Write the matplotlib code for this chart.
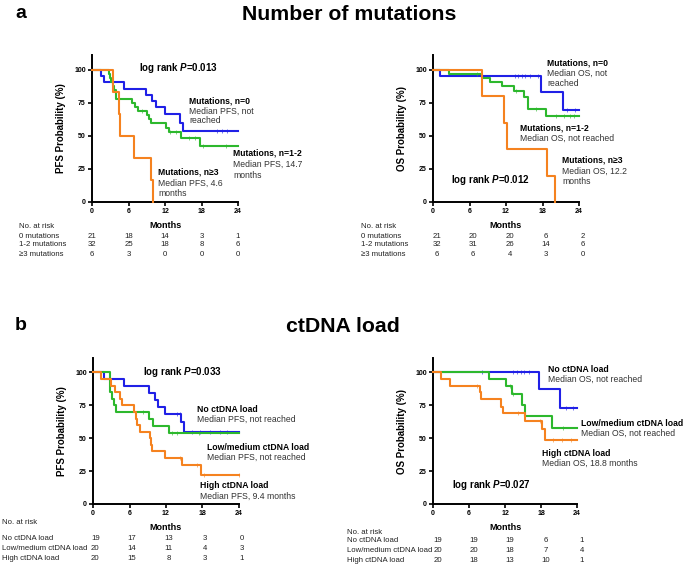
import numpy as np
import matplotlib
matplotlib.use("Agg")
import matplotlib.pyplot as plt
import matplotlib.transforms as mtransforms

plt.rcParams['font.family'] = ['Liberation Sans', 'DejaVu Sans']
plt.rcParams['mathtext.fontset'] = 'custom'
plt.rcParams['mathtext.bfit'] = 'Liberation Sans:italic:bold'
plt.rcParams['mathtext.rm'] = 'Liberation Sans:bold'

W, H = 685, 567
BLUE = '#2020e6'
GREEN = '#2db82d'
ORANGE = '#f5821f'

# ---------------- data ----------------
risk_times = [0, 6, 12, 18, 24]

# Panel a, PFS
a_pfs_blue_t = [1.5, 1.9, 5.2, 8.9, 9.8, 10.6, 12.0, 14.5, 15.0]
a_pfs_blue_s = [95.2, 90.5, 85.7, 81.0, 76.2, 71.4, 66.7, 60.0, 53.3]
a_pfs_blue_c = [20.5, 21.4, 22.2]
a_pfs_green_t = [2.8, 3.0, 3.2, 3.4, 3.6, 4.0, 6.6, 7.0, 7.6, 9.0, 9.3, 9.7, 12.1, 12.6, 14.6, 17.7]
a_pfs_green_s = [96.9, 93.8, 90.6, 87.5, 84.4, 78.1, 75.0, 71.9, 68.8, 65.6, 62.5, 59.4, 56.0, 52.5, 48.3, 42.5]
a_pfs_green_c = [8.2, 12.8, 13.8, 16.0, 17.0, 18.2, 22.1]
a_pfs_orange_t = [3.5, 4.4, 4.6, 6.9, 9.7, 10.0]
a_pfs_orange_s = [83.3, 66.7, 50.0, 33.3, 16.7, 0.0]
a_pfs_orange_c = []
a_pfs_end = [24, 24, 10.0]

# Panel a, OS
a_os_blue_t = [1.2, 17.8, 21.3]
a_os_blue_s = [95.2, 83.3, 69.4]
a_os_blue_c = [13.4, 14.0, 14.6, 15.2, 16.0, 17.3, 22.0, 23.3]
a_os_green_t = [2.7, 8.1, 9.4, 11.4, 13.3, 15.0, 15.6, 18.5]
a_os_green_s = [96.9, 93.8, 90.6, 87.5, 83.6, 79.5, 70.3, 65.0]
a_os_green_c = [7.3, 13.6, 17.0, 20.3, 21.5, 22.5, 23.2]
a_os_orange_t = [8.1, 11.7, 12.1, 18.8, 20.0]
a_os_orange_s = [80.0, 60.0, 40.0, 20.0, 0.0]
a_os_orange_c = []
a_os_end = [24, 24, 20.0]

# Panel b, PFS
b_pfs_blue_t = [1.8, 5.1, 9.2, 10.2, 10.7, 11.8, 14.5, 15.0]
b_pfs_blue_s = [94.7, 89.5, 84.2, 78.9, 73.7, 68.4, 62.2, 54.7]
b_pfs_blue_c = [13.8, 14.3, 16.2, 17.6, 19.3, 20.9, 22.0]
b_pfs_green_t = [2.75, 3.1, 3.4, 3.85, 9.2, 9.9, 12.5]
b_pfs_green_s = [85.0, 80.0, 75.0, 70.0, 65.0, 59.5, 54.0]
b_pfs_green_c = [8.3, 13.0, 13.8, 17.5]
b_pfs_orange_t = [1.3, 3.0, 3.6, 4.5, 4.7, 6.8, 7.0, 7.2, 7.7, 9.4, 9.6, 9.7, 11.9, 14.6, 17.7]
b_pfs_orange_s = [95.0, 90.0, 85.0, 80.0, 75.0, 70.0, 65.0, 60.0, 55.0, 50.0, 45.0, 40.0, 35.0, 29.3, 21.8]
b_pfs_orange_c = [14.3, 17.1, 18.3, 24.0]
b_pfs_end = [24, 24, 24]

# Panel b, OS
b_os_blue_t = [17.7, 21.1]
b_os_blue_s = [87.5, 73.0]
b_os_blue_c = [8.1, 13.3, 14.0, 14.6, 15.2, 16.0, 22.2, 23.3]
b_os_green_t = [9.3, 12.1, 13.2, 14.9, 15.4, 19.9]
b_os_green_s = [95.0, 89.5, 84.0, 75.5, 67.0, 57.5]
b_os_green_c = [12.8, 13.3, 21.7]
b_os_orange_t = [1.3, 2.8, 7.9, 8.0, 11.3, 11.6, 15.4, 18.2, 18.6]
b_os_orange_s = [95.0, 90.0, 85.0, 80.0, 74.0, 69.0, 63.0, 57.0, 48.5]
b_os_orange_c = [7.4, 14.2, 17.8, 20.0, 21.5, 23.0]
b_os_end = [24, 24, 24]

# Risk tables
a_groups = ['0 mutations', '1-2 mutations', '\u22653 mutations']
a_pfs_risk = [[21, 18, 14, 3, 1], [32, 25, 18, 8, 6], [6, 3, 0, 0, 0]]
a_os_risk = [[21, 20, 20, 6, 2], [32, 31, 26, 14, 6], [6, 6, 4, 3, 0]]
b_groups = ['No ctDNA load', 'Low/medium ctDNA load', 'High ctDNA load']
b_pfs_risk = [[19, 17, 13, 3, 0], [20, 14, 11, 4, 3], [20, 15, 8, 3, 1]]
b_os_risk = [[19, 19, 19, 6, 1], [20, 20, 18, 7, 4], [20, 18, 13, 10, 1]]

# ---------------- figure ----------------
fig = plt.figure(figsize=(W / 100, H / 100), dpi=100)
fig.patch.set_facecolor('white')


def fx(x):
    return x / W


def fy(y):
    return 1 - y / H


def ftext(x, y, s, **kw):
    kw.setdefault('va', 'center')
    fig.text(fx(x), fy(y), s, **kw)


def make_axes(x0, x1, y0, ytop, ylabel):
    ax = fig.add_axes([fx(x0), fy(y0), (x1 - x0) / W, (y0 - ytop) / H])
    ax.set_xlim(0, 24)
    ax.set_ylim(0, 111)
    for sp in ['top', 'right']:
        ax.spines[sp].set_visible(False)
    for sp in ['left', 'bottom']:
        ax.spines[sp].set_linewidth(1.4)
    ax.spines['left'].set_bounds(0, 111)
    ax.set_xticks(risk_times)
    ax.set_yticks([0, 25, 50, 75, 100])
    ax.tick_params(axis='both', direction='out', length=3, width=1.2, pad=1.5,
                   labelsize=5)
    for lab in ax.get_xticklabels() + ax.get_yticklabels():
        lab.set_fontweight('bold')
    ax.set_ylabel(ylabel, fontsize=7, fontweight='bold', labelpad=6)
    ax.set_xlabel('Months', fontsize=6.5, fontweight='bold', labelpad=4)
    return ax


def km(ax, t, s, end, censor, color):
    tt = [0] + list(t) + [end]
    ss = [100] + list(s) + [s[-1]]
    ax.step(tt, ss, where='post', color=color, lw=1.5, clip_on=False, zorder=3)
    if censor:
        ct = np.array(censor)
        idx = np.searchsorted(np.array(tt), ct, side='right') - 1
        cs = np.array(ss)[idx]
        ax.plot(ct, cs, ls='none', marker='|', ms=3.5, mew=0.6, color=color,
                alpha=0.7, clip_on=False, zorder=3)


def risk_table(ax, groups, rows, y_head, y_rows, x_label, dx=0.0):
    trans = mtransforms.blended_transform_factory(ax.transData, fig.transFigure)
    ftext(x_label, y_head, 'No. at risk', fontsize=5.6, ha='left', color='#222222')
    for g, row, yr in zip(groups, rows, y_rows):
        ftext(x_label, yr, g, fontsize=5.6, ha='left', color='#222222')
        for tm, n in zip(risk_times, row):
            ax.text(tm + dx, fy(yr), str(n), transform=trans, fontsize=5.6,
                    ha='center', va='center', color='#222222', clip_on=False)


# Titles
ftext(15, 14, 'a', fontsize=14, fontweight='bold', ha='left')
ftext(349, 14, 'Number of mutations', fontsize=15.3, fontweight='bold', ha='center')
ftext(15, 326, 'b', fontsize=14, fontweight='bold', ha='left')
ftext(343, 326, 'ctDNA load', fontsize=15.3, fontweight='bold', ha='center')

# ---- Panel a left (PFS)
ax1 = make_axes(92, 238, 202, 55, 'PFS Probability (%)')
km(ax1, a_pfs_blue_t, a_pfs_blue_s, a_pfs_end[0], a_pfs_blue_c, BLUE)
km(ax1, a_pfs_green_t, a_pfs_green_s, a_pfs_end[1], a_pfs_green_c, GREEN)
km(ax1, a_pfs_orange_t, a_pfs_orange_s, a_pfs_end[2], a_pfs_orange_c, ORANGE)
risk_table(ax1, a_groups, a_pfs_risk, 227, [236, 245, 254], 19)

ftext(139, 68, r'log rank $\mathbfit{P}$=0.013', fontsize=7, fontweight='bold', ha='left')
ftext(189, 101, 'Mutations, n=0', fontsize=6.2, fontweight='bold', ha='left')
ftext(189, 111, 'Median PFS, not', fontsize=6.2, ha='left', color='#333333')
ftext(189, 121, 'reached', fontsize=6.2, ha='left', color='#333333')
ftext(233, 153, 'Mutations, n=1-2', fontsize=6.2, fontweight='bold', ha='left')
ftext(233, 164, 'Median PFS, 14.7', fontsize=6.2, ha='left', color='#333333')
ftext(233, 175, 'months', fontsize=6.2, ha='left', color='#333333')
ftext(158, 172, 'Mutations, n\u22653', fontsize=6.2, fontweight='bold', ha='left')
ftext(158, 183, 'Median PFS, 4.6', fontsize=6.2, ha='left', color='#333333')
ftext(158, 194, 'months', fontsize=6.2, ha='left', color='#333333')

# ---- Panel a right (OS)
ax2 = make_axes(433, 579, 202, 55, 'OS Probability (%)')
km(ax2, a_os_blue_t, a_os_blue_s, a_os_end[0], a_os_blue_c, BLUE)
km(ax2, a_os_green_t, a_os_green_s, a_os_end[1], a_os_green_c, GREEN)
km(ax2, a_os_orange_t, a_os_orange_s, a_os_end[2], a_os_orange_c, ORANGE)
risk_table(ax2, a_groups, a_os_risk, 227, [236, 245, 254], 361, dx=0.6)

ftext(547, 63, 'Mutations, n=0', fontsize=6.2, fontweight='bold', ha='left')
ftext(547, 73, 'Median OS, not', fontsize=6.2, ha='left', color='#333333')
ftext(547, 83, 'reached', fontsize=6.2, ha='left', color='#333333')
ftext(520, 128, 'Mutations, n=1-2', fontsize=6.2, fontweight='bold', ha='left')
ftext(520, 138, 'Median OS, not reached', fontsize=6.2, ha='left', color='#333333')
ftext(562, 160, 'Mutations, n\u22653', fontsize=6.2, fontweight='bold', ha='left')
ftext(562, 171, 'Median OS, 12.2', fontsize=6.2, ha='left', color='#333333')
ftext(562, 182, 'months', fontsize=6.2, ha='left', color='#333333')
ftext(451, 180, r'log rank $\mathbfit{P}$=0.012', fontsize=7, fontweight='bold', ha='left')

# ---- Panel b left (PFS)
ax3 = make_axes(93, 239, 504, 358, 'PFS Probability (%)')
km(ax3, b_pfs_blue_t, b_pfs_blue_s, b_pfs_end[0], b_pfs_blue_c, BLUE)
km(ax3, b_pfs_green_t, b_pfs_green_s, b_pfs_end[1], b_pfs_green_c, GREEN)
km(ax3, b_pfs_orange_t, b_pfs_orange_s, b_pfs_end[2], b_pfs_orange_c, ORANGE)
risk_table(ax3, b_groups, b_pfs_risk, 523, [539, 548, 558], 2, dx=0.4)

ftext(143, 372, r'log rank $\mathbfit{P}$=0.033', fontsize=7, fontweight='bold', ha='left')
ftext(197, 409, 'No ctDNA load', fontsize=6.2, fontweight='bold', ha='left')
ftext(197, 419, 'Median PFS, not reached', fontsize=6.2, ha='left', color='#333333')
ftext(207, 447, 'Low/medium ctDNA load', fontsize=6.2, fontweight='bold', ha='left')
ftext(207, 457, 'Median PFS, not reached', fontsize=6.2, ha='left', color='#333333')
ftext(200, 486, 'High ctDNA load', fontsize=6.2, fontweight='bold', ha='left')
ftext(200, 496, 'Median PFS, 9.4 months', fontsize=6.2, ha='left', color='#333333')

# ---- Panel b right (OS)
ax4 = make_axes(433, 577, 504, 358, 'OS Probability (%)')
km(ax4, b_os_blue_t, b_os_blue_s, b_os_end[0], b_os_blue_c, BLUE)
km(ax4, b_os_green_t, b_os_green_s, b_os_end[1], b_os_green_c, GREEN)
km(ax4, b_os_orange_t, b_os_orange_s, b_os_end[2], b_os_orange_c, ORANGE)
risk_table(ax4, b_groups, b_os_risk, 532, [541, 551, 561], 347, dx=0.8)

ftext(548, 369, 'No ctDNA load', fontsize=6.2, fontweight='bold', ha='left')
ftext(548, 379, 'Median OS, not reached', fontsize=6.2, ha='left', color='#333333')
ftext(581, 423, 'Low/medium ctDNA load', fontsize=6.2, fontweight='bold', ha='left')
ftext(581, 433, 'Median OS, not reached', fontsize=6.2, ha='left', color='#333333')
ftext(542, 453, 'High ctDNA load', fontsize=6.2, fontweight='bold', ha='left')
ftext(542, 463, 'Median OS, 18.8 months', fontsize=6.2, ha='left', color='#333333')
ftext(452, 485, r'log rank $\mathbfit{P}$=0.027', fontsize=7, fontweight='bold', ha='left')

fig.savefig('out.png', dpi=100, facecolor='white')
